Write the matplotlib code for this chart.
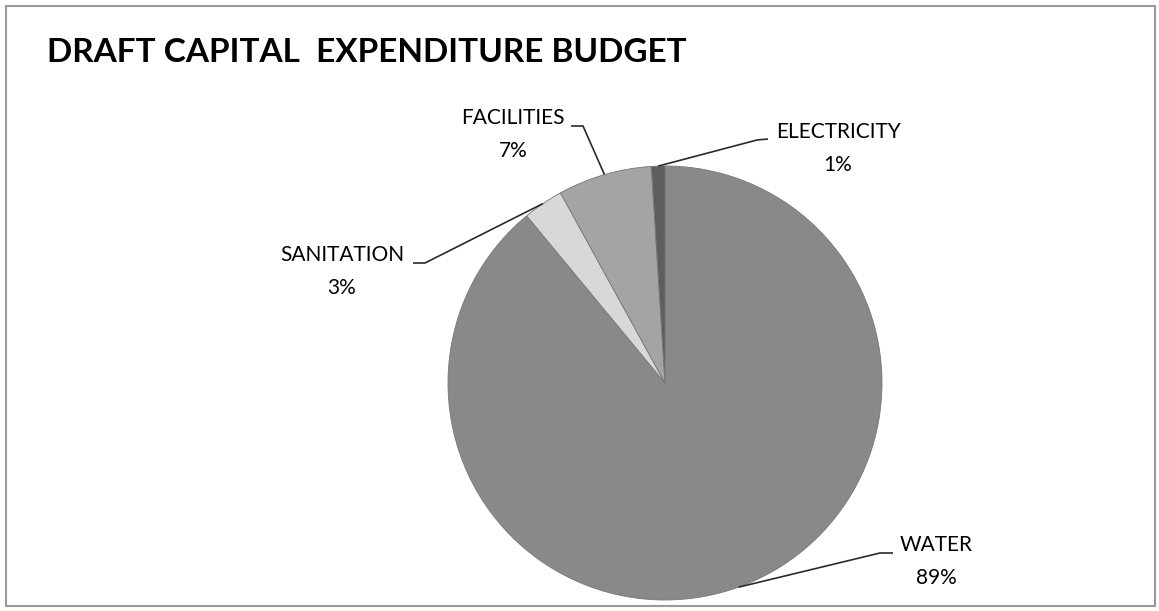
import matplotlib.pyplot as plt
from matplotlib.patches import Rectangle
import numpy as np

# chart data
categories = ['WATER', 'SANITATION', 'FACILITIES', 'ELECTRICITY']
shares = [89, 3, 7, 1]
colors = ['#898989', '#d8d8d8', '#a4a4a4', '#5e5e5e']

title = 'DRAFT CAPITAL  EXPENDITURE BUDGET'

W, H = 1159, 611
plt.rcParams['font.family'] = ['Lato', 'DejaVu Sans']

fig = plt.figure(figsize=(W / 100, H / 100), dpi=100)
ax = fig.add_axes([0, 0, 1, 1])

# pie in pixel coordinates (y up)
cx, cy, r = 665, H - 383, 217
wedges, _ = ax.pie(shares, colors=colors, startangle=90, counterclock=False,
                   center=(cx, cy), radius=r, frame=True,
                   wedgeprops=dict(edgecolor='#777777', linewidth=0.6))
ax.set_xlim(0, W)
ax.set_ylim(0, H)
ax.set_aspect('equal')
ax.axis('off')

# label centres (pixel, y from top) and leader line starts / elbows
label_xy = {'WATER': (936, 545), 'SANITATION': (342, 255),
            'FACILITIES': (513, 118), 'ELECTRICITY': (838, 132)}
leader = {'WATER': [(893, 553), (880, 553)],
          'SANITATION': [(413, 263), (425, 263)],
          'FACILITIES': [(571, 126), (583, 126)],
          'ELECTRICITY': [(768, 139), (757, 140)]}

total = sum(shares)
for w, name, val in zip(wedges, categories, shares):
    lx, ly = label_xy[name]
    pct = '%d%%' % round(100 * val / total)
    ax.text(lx, H - ly, name, ha='center', va='center', fontsize=15, color='#000000')
    ax.text(lx, H - ly - 33, pct, ha='center', va='center', fontsize=15, color='#000000')
    mid = np.deg2rad((w.theta1 + w.theta2) / 2)
    ex, ey = cx + r * np.cos(mid), cy + r * np.sin(mid)
    (x0, y0), (x1, y1) = leader[name]
    ax.plot([x0, x1, ex], [H - y0, H - y1, ey], color='#2a2a2a', lw=1.2,
            solid_capstyle='butt')

ax.text(47, H - 52, title, ha='left', va='center', fontsize=24,
        fontweight='bold', color='#000000')

ax.add_patch(Rectangle((6, H - 606), 1149, 600, fill=False,
                       edgecolor='#9a9a9a', lw=1.5))

fig.savefig('out.png', dpi=100)
